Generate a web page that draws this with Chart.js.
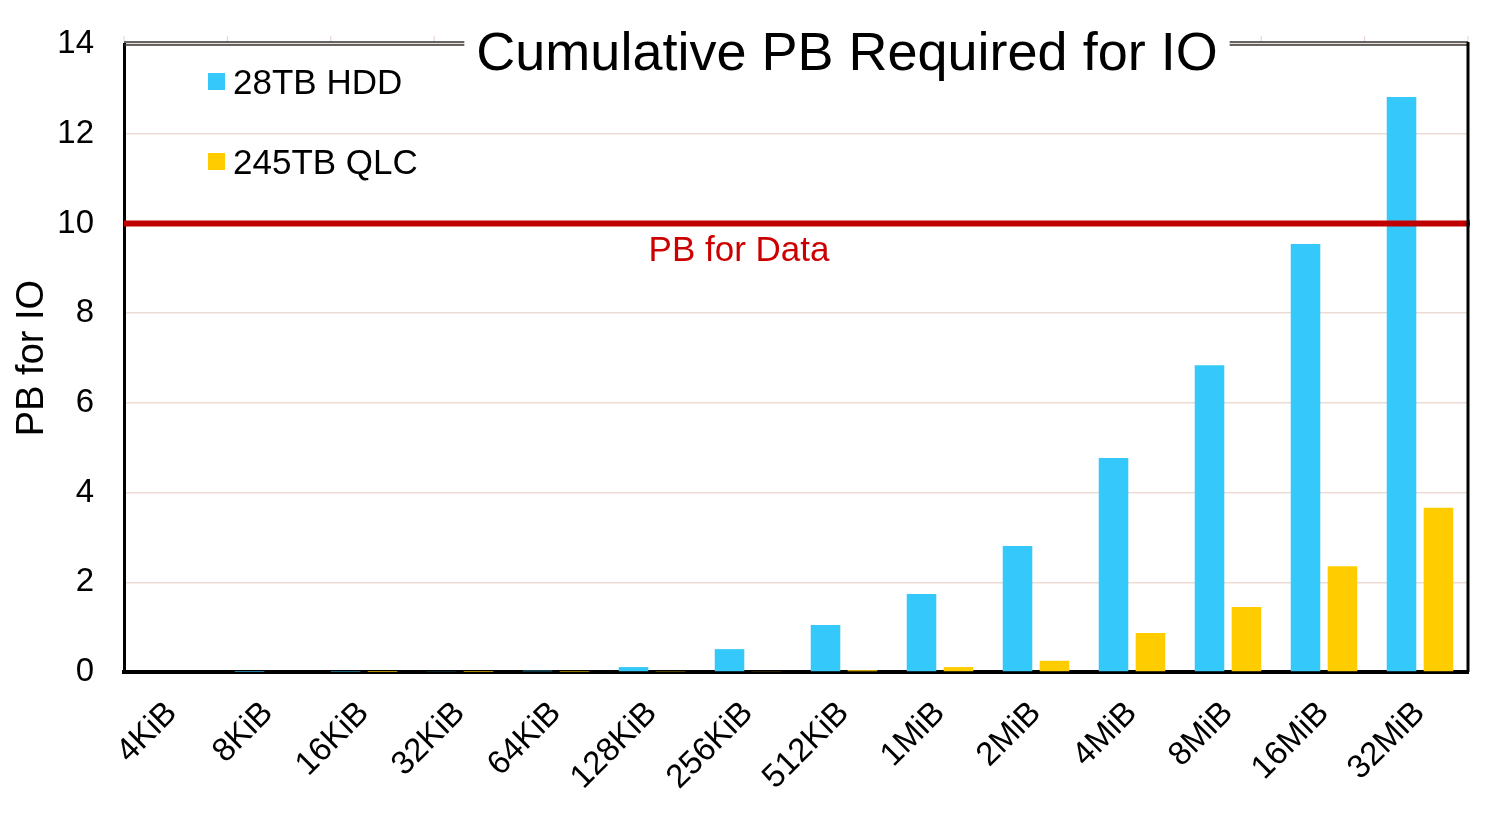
<!DOCTYPE html>
<html>
<head>
<meta charset="utf-8">
<script src="https://cdn.jsdelivr.net/npm/chart.js@4"></script>
<style>
  body { margin: 0; background: #fff; }
  #wrap { width: 1500px; height: 836px; }
</style>
</head>
<body>
<div id="wrap"><canvas id="myChart"></canvas></div>
<script>
const sizes = ["4KiB", "8KiB", "16KiB", "32KiB", "64KiB", "128KiB", "256KiB", "512KiB", "1MiB", "2MiB", "4MiB", "8MiB", "16MiB", "32MiB"];
const hdd = [0, 0.003, 0.006, 0.013, 0.03, 0.11, 0.51, 1.05, 1.74, 2.81, 4.77, 6.84, 9.54, 12.82];
const qlc = [0, 0, 0.001, 0.002, 0.004, 0.01, 0.02, 0.04, 0.11, 0.25, 0.87, 1.45, 2.36, 3.66];
const dataLevel = 10;
const dataLabel = "PB for Data";
const chartTitle = "Cumulative PB Required for IO";

const font = "'Liberation Sans', Arial, sans-serif";

// frame: double line on top with small ticks, black line on the right
const framePlugin = {
  id: "frame",
  afterDraw(chart) {
    const ctx = chart.ctx;
    const a = chart.chartArea;
    ctx.save();
    ctx.strokeStyle = "#e9cfc8";
    ctx.lineWidth = 1;
    for (let i = 0; i <= 13; i++) {
      const x = a.left + (a.right - a.left) * i / 13;
      ctx.beginPath();
      ctx.moveTo(x, a.top - 8);
      ctx.lineTo(x, a.top - 2);
      ctx.stroke();
    }
    ctx.strokeStyle = "#333";
    ctx.lineWidth = 1.5;
    ctx.beginPath();
    ctx.moveTo(a.left, a.top - 2);
    ctx.lineTo(a.right, a.top - 2);
    ctx.moveTo(a.left, a.top + 1);
    ctx.lineTo(a.right, a.top + 1);
    ctx.stroke();
    ctx.strokeStyle = "#000";
    ctx.lineWidth = 3;
    ctx.beginPath();
    ctx.moveTo(a.right, a.top - 2);
    ctx.lineTo(a.right, a.bottom);
    ctx.stroke();

    // title over the top line
    ctx.font = "54px " + font;
    ctx.textAlign = "center";
    ctx.textBaseline = "alphabetic";
    const tx = 847;
    const tw = ctx.measureText(chartTitle).width;
    ctx.fillStyle = "#fff";
    ctx.fillRect(tx - tw / 2 - 12, a.top - 12, tw + 24, 16);
    ctx.fillStyle = "#000";
    ctx.fillText(chartTitle, tx, 70);

    // legend
    ctx.font = "35px " + font;
    ctx.textAlign = "left";
    chart.data.datasets.forEach((ds, i) => {
      const cy = a.top + 37 + i * 80;
      ctx.fillStyle = ds.backgroundColor;
      ctx.fillRect(a.left + 84, cy - 8, 17, 17);
      ctx.fillStyle = "#000";
      ctx.fillText(ds.label, a.left + 109, cy + 13);
    });
    ctx.restore();
  },
  afterDatasetsDraw(chart) {
    const ctx = chart.ctx;
    const a = chart.chartArea;
    const y = chart.scales.y.getPixelForValue(dataLevel);
    ctx.save();
    ctx.strokeStyle = "#c00000";
    ctx.lineWidth = 6;
    ctx.beginPath();
    ctx.moveTo(a.left, y);
    ctx.lineTo(a.right + 2, y);
    ctx.stroke();
    ctx.fillStyle = "#cc0000";
    ctx.font = "35px " + font;
    ctx.textAlign = "center";
    ctx.fillText(dataLabel, 739, y + 38);
    ctx.restore();
  }
};

const ctx = document.getElementById("myChart");
new Chart(ctx, {
  type: "bar",
  data: {
    labels: sizes,
    datasets: [
      {
        label: "28TB HDD",
        data: hdd,
        backgroundColor: "#35c8fa",
        categoryPercentage: 0.77,
        barPercentage: 0.8,
      },
      {
        label: "245TB QLC",
        data: qlc,
        backgroundColor: "#ffcc00",
        categoryPercentage: 0.77,
        barPercentage: 0.8,
      },
    ],
  },
  options: {
    responsive: true,
    maintainAspectRatio: false,
    animation: false,
    layout: { padding: { left: 0, right: 32, top: 44, bottom: 0 } },
    plugins: {
      legend: { display: false },
      title: { display: false },
      tooltip: { enabled: false },
    },
    scales: {
      x: {
        grid: { display: false },
        border: { color: "#000", width: 4 },
        ticks: {
          color: "#000",
          font: { family: font, size: 33 },
          minRotation: 45,
          maxRotation: 45,
          padding: 14,
        },
        afterFit(scale) { scale.height = 164; },
      },
      y: {
        min: 0,
        max: 14,
        ticks: {
          stepSize: 2,
          color: "#000",
          font: { family: font, size: 33 },
          padding: 0,
        },
        grid: { color: "#ecdcd3", lineWidth: 1.5, drawTicks: true, tickLength: 30, tickColor: "rgba(0,0,0,0)" },
        border: { color: "#000", width: 3 },
        title: {
          display: true,
          text: "PB for IO",
          color: "#000",
          font: { family: font, size: 38 },
          padding: { top: 10, bottom: 0 },
        },
        afterFit(scale) { scale.width = 124; },
      },
    },
  },
  plugins: [framePlugin],
});
</script>
</body>
</html>
